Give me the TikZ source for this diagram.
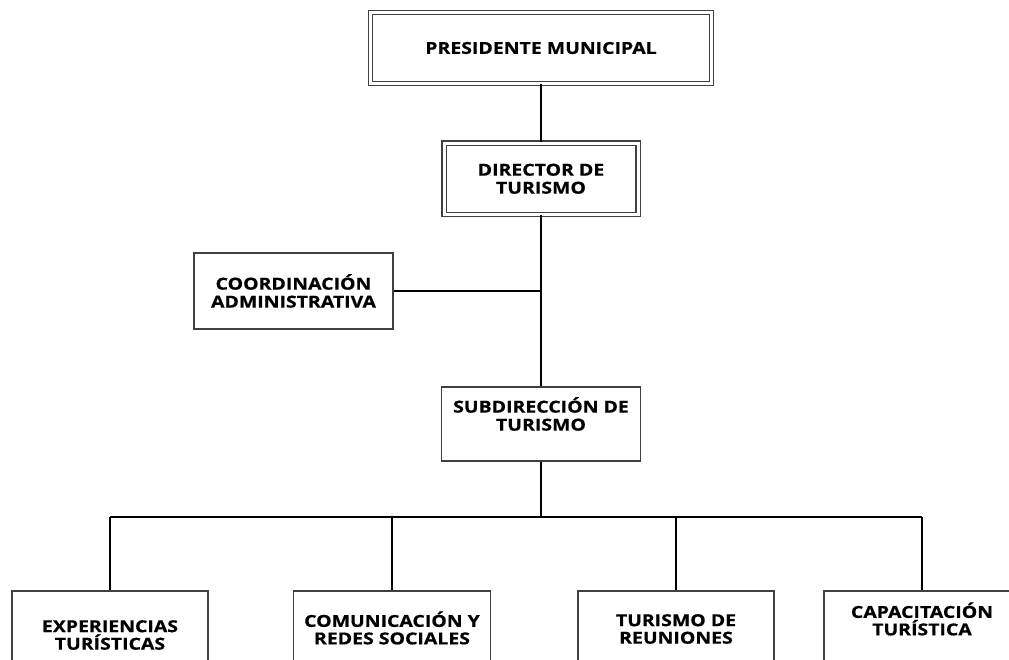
\documentclass[tikz,border=0pt]{standalone}
\usepackage{fontspec}
\setmainfont[FakeStretch=1.18, BoldFeatures={FakeBold=0.6}]{Open Sans}
\usetikzlibrary{positioning}
\definecolor{bgrey}{HTML}{404040}
\tikzstyle{l2}=[line width=1.5]
\tikzstyle{box}=[rectangle, draw=bgrey, l2, inner sep=0pt, minimum width=196pt]
\tikzstyle{dbox}=[box, double, double distance=3pt, line width=1.4]
\tikzstyle{lbl}=[font=\bfseries\fontsize{16.5}{18}\selectfont, align=center, inner sep=0pt]
\tikzstyle{lbls}=[lbl, font=\bfseries\fontsize{16.5}{17.5}\selectfont]
\tikzstyle{link}=[line width=1.7, black]
\tikzstyle{hlink}=[line width=1.1, black]

\begin{document}
\begin{tikzpicture}[x=1pt, y=-1pt]

    \useasboundingbox (0,0) rectangle (1009,659);
    \clip (0,0) rectangle (1009,659);

    % top of the chart
    \node[dbox, minimum width=341pt, minimum height=71pt, lbl] (pres) at (541,48) {PRESIDENTE MUNICIPAL};
    \node[dbox, minimum width=194pt, minimum height=71.5pt, lbl] (dir) at (541,178.75) {DIRECTOR DE\\TURISMO};
    \node[box, minimum width=199pt, minimum height=76pt, lbl] (coord) at (293.5,291) {COORDINACIÓN\\ADMINISTRATIVA};

    \node[box, minimum width=199pt, minimum height=74pt] (sub) at (541,424) {};
    \node[lbl] (subT) at (541,414) {SUBDIRECCIÓN DE\\TURISMO};

    % bottom row (cut by the page edge)
    \node[box, minimum height=109pt] (exp) at (110,645.5) {};
    \node[box, minimum width=197pt, minimum height=109pt] (com) at (392,645.5) {};
    \node[box, minimum height=109pt] (tur) at (676,645.5) {};
    \node[box, minimum height=109pt] (cap) at (922,645.5) {};
    \node[lbls] (expT) at (110,635) {EXPERIENCIAS\\TURÍSTICAS};
    \node[lbls] (comT) at (392,628) {COMUNICACIÓN Y\\REDES SOCIALES};
    \node[lbls] (turT) at (676,629) {TURISMO DE\\REUNIONES};
    \node[lbls] (capT) at (922,619) {CAPACITACIÓN\\TURÍSTICA};

    \coordinate (bar) at (541,517);

    \draw[link] (pres.south) -- (dir.north);
    \draw[link] (dir.south) -- (sub.north);
    \draw[hlink] (coord.east) -- (coord.east -| dir.south);
    \draw[link] (sub.south) -- (bar);
    \draw[hlink] (exp.north |- bar) -- (cap.north |- bar);
    \foreach \b in {exp,com,tur,cap}{
            \draw[link] (\b.north |- bar) -- (\b.north);
        }

\end{tikzpicture}
\end{document}
